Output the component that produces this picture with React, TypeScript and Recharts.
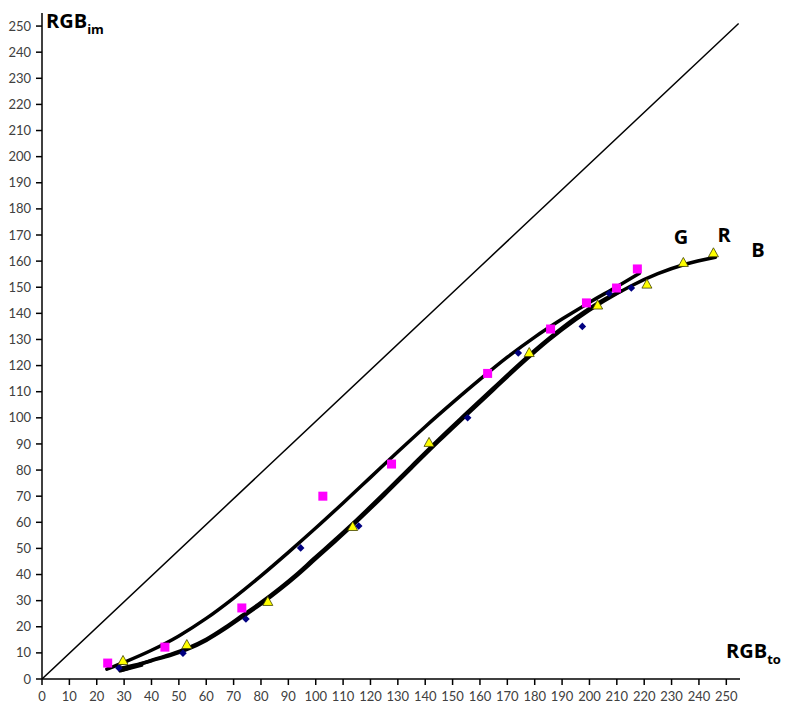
import React from 'react';
import { ComposedChart, XAxis, YAxis, Line, Scatter, Customized } from 'recharts';

const axisTicks = [0, 10, 20, 30, 40, 50, 60, 70, 80, 90, 100, 110, 120, 130, 140, 150, 160, 170, 180, 190, 200, 210, 220, 230, 240, 250];

// measured points
const gPoints = [
  { x: 24, y: 6.1 }, { x: 44.9, y: 12.2 }, { x: 73, y: 27.2 }, { x: 102.6, y: 70 }, { x: 127.7, y: 82.3 },
  { x: 162.8, y: 117 }, { x: 185.8, y: 134 }, { x: 198.9, y: 144 }, { x: 209.9, y: 149.7 }, { x: 217.5, y: 157 },
];
const bPoints = [
  { x: 28.1, y: 4.2 }, { x: 51.5, y: 9.9 }, { x: 74.5, y: 23 }, { x: 94.5, y: 50.2 }, { x: 115.7, y: 58.6 },
  { x: 155.5, y: 100 }, { x: 174, y: 124.8 }, { x: 197.4, y: 135 }, { x: 207.2, y: 147.6 }, { x: 215.3, y: 149.7 },
];
const rPoints = [
  { x: 29.6, y: 6.9 }, { x: 52.9, y: 13 }, { x: 82.5, y: 29.5 }, { x: 113.5, y: 58.2 }, { x: 141.4, y: 90.4 },
  { x: 178, y: 124.8 }, { x: 203, y: 143 }, { x: 221, y: 151 }, { x: 234.3, y: 159.3 }, { x: 245.3, y: 163 },
];

// fitted curves
const gCurve = [
  { x: 23.7, y: 3.8 }, { x: 30, y: 6.4 }, { x: 40, y: 11 }, { x: 50, y: 16.5 }, { x: 60, y: 23.2 },
  { x: 70, y: 31 }, { x: 80, y: 39.5 }, { x: 90, y: 48.5 }, { x: 100, y: 57.8 }, { x: 110, y: 67.4 },
  { x: 120, y: 77.2 }, { x: 130, y: 87 }, { x: 140, y: 96.6 }, { x: 150, y: 105.8 }, { x: 160, y: 114.7 },
  { x: 170, y: 123.2 }, { x: 180, y: 130.9 }, { x: 190, y: 137.8 }, { x: 200, y: 144.2 }, { x: 210, y: 150.2 },
  { x: 218.2, y: 155.3 },
];
const rCurve = [
  { x: 28, y: 4 }, { x: 35, y: 5.6 }, { x: 41, y: 7.3 }, { x: 47, y: 9.1 }, { x: 53, y: 11.3 },
  { x: 60, y: 14.8 }, { x: 67, y: 19.3 }, { x: 73, y: 23.6 }, { x: 80, y: 28.7 }, { x: 87, y: 34.3 },
  { x: 93, y: 39.5 }, { x: 99, y: 45.1 }, { x: 107, y: 52.6 }, { x: 115, y: 60.3 }, { x: 125, y: 70.4 },
  { x: 135, y: 80.8 }, { x: 145, y: 91.1 }, { x: 155, y: 101 }, { x: 165, y: 110.8 }, { x: 175, y: 120.5 },
  { x: 185, y: 129.6 }, { x: 195, y: 137.6 }, { x: 205, y: 144.5 }, { x: 215, y: 150.4 }, { x: 225, y: 155.2 },
  { x: 235, y: 158.8 }, { x: 246, y: 161.5 },
];
const bCurve = [
  { x: 29, y: 3.3 }, { x: 35, y: 5.3 }, { x: 41, y: 7.5 }, { x: 47, y: 9.4 }, { x: 53, y: 11.7 },
  { x: 60, y: 15.2 }, { x: 67, y: 19.8 }, { x: 73, y: 24.2 }, { x: 80, y: 29.3 }, { x: 87, y: 34.9 },
  { x: 93, y: 40.1 }, { x: 99, y: 45.8 }, { x: 107, y: 53.3 }, { x: 115, y: 61 }, { x: 125, y: 71.1 },
  { x: 135, y: 81.5 }, { x: 145, y: 91.8 }, { x: 155, y: 101.7 }, { x: 165, y: 111.5 }, { x: 175, y: 121.2 },
  { x: 185, y: 130.2 }, { x: 195, y: 138.3 }, { x: 205, y: 145.1 }, { x: 211.6, y: 148.6 },
];
const loopSegment = [{ x: 36.5, y: 5.2 }, { x: 28.5, y: 3 }];
const diagonal = [{ x: 0, y: 0 }, { x: 254.5, y: 251 }];

const Square = (p: any) => (
  <rect x={p.cx - 4.5} y={p.cy - 4.5} width={9} height={9} fill="#FF00FF" />
);
const Diamond = (p: any) => (
  <path d={`M${p.cx},${p.cy - 3.8}L${p.cx + 3.8},${p.cy}L${p.cx},${p.cy + 3.8}L${p.cx - 3.8},${p.cy}Z`} fill="#000080" />
);
const Triangle = (p: any) => (
  <path d={`M${p.cx},${p.cy - 5.5}L${p.cx + 5},${p.cy + 3.5}L${p.cx - 5},${p.cy + 3.5}Z`} fill="#FFFF00" stroke="#404000" strokeWidth={0.8} />
);

const Labels = () => (
  <g fontFamily="'Open Sans', Lato, sans-serif" fontWeight="bold" fill="#000">
    <text x={46} y={28} fontSize={20}>RGB<tspan fontSize={13} dy={6}>im</tspan></text>
    <text x={726} y={658} fontSize={20}>RGB<tspan fontSize={13} dy={6}>to</tspan></text>
    <text x={681} y={244} fontSize={20} textAnchor="middle">G</text>
    <text x={724} y={242} fontSize={20} textAnchor="middle">R</text>
    <text x={758} y={257} fontSize={20} textAnchor="middle">B</text>
  </g>
);

const tickStyle = { fontSize: 13, fill: '#404040', fontFamily: 'Lato, sans-serif' };

export default function App() {
  return (
    <div style={{ position: 'absolute', left: 0, top: 0, background: '#fff' }}>
      <ComposedChart width={787} height={706} margin={{ top: 13, right: 47, bottom: 0, left: 0 }}>
        <XAxis
          dataKey="x" type="number" domain={[0, 255]} ticks={axisTicks} interval={0}
          stroke="#000" strokeWidth={1.5} tickSize={6} tickMargin={7} height={27}
          tick={tickStyle} allowDataOverflow
        />
        <YAxis
          dataKey="y" type="number" domain={[0, 255]} ticks={axisTicks} interval={0}
          stroke="#000" strokeWidth={1.5} tickSize={6} tickMargin={5} width={42}
          tick={tickStyle} allowDataOverflow
        />
        <Line data={diagonal} dataKey="y" type="linear" stroke="#000" strokeWidth={1.5} dot={false} isAnimationActive={false} />
        <Scatter data={gPoints} dataKey="y" shape={Square} isAnimationActive={false} />
        <Scatter data={bPoints} dataKey="y" shape={Diamond} isAnimationActive={false} />
        <Scatter data={rPoints} dataKey="y" shape={Triangle} isAnimationActive={false} />
        <Line data={gCurve} dataKey="y" type="monotone" stroke="#000" strokeWidth={3.5} strokeLinecap="round" dot={false} isAnimationActive={false} />
        <Line data={rCurve} dataKey="y" type="monotone" stroke="#000" strokeWidth={3.5} strokeLinecap="round" dot={false} isAnimationActive={false} />
        <Line data={bCurve} dataKey="y" type="monotone" stroke="#000" strokeWidth={3.5} strokeLinecap="round" dot={false} isAnimationActive={false} />
        <Line data={loopSegment} dataKey="y" type="linear" stroke="#000" strokeWidth={3} strokeLinecap="round" dot={false} isAnimationActive={false} />
        <Customized component={Labels} />
      </ComposedChart>
    </div>
  );
}
